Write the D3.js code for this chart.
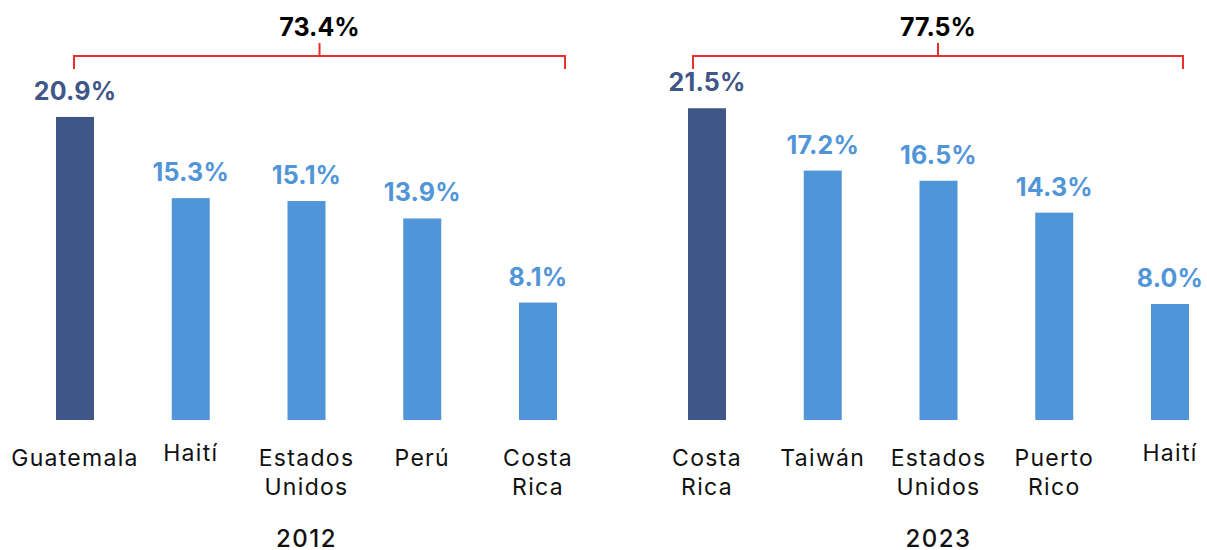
<!DOCTYPE html>
<html>
<head>
<meta charset="utf-8">
<script src="https://cdn.jsdelivr.net/npm/d3@7"></script>
<style>
    body { margin: 0; background: #fff; }
    text { font-family: Inter, "Open Sans", sans-serif; }
</style>
</head>
<body>
<div id="chart"></div>
<script>
// data
var years = ["2012", "2023"];
var countries2012 = ["Guatemala", "Haití", "Estados Unidos", "Perú", "Costa Rica"];
var values2012 = [20.9, 15.3, 15.1, 13.9, 8.1];
var countries2023 = ["Costa Rica", "Taiwán", "Estados Unidos", "Puerto Rico", "Haití"];
var values2023 = [21.5, 17.2, 16.5, 14.3, 8.0];
var totals = [73.4, 77.5];

Panel = function(_svg, _year, _countries, _values, _total, _range, _bracket){
    this.svg = _svg;
    this.year = _year;
    this.countries = _countries;
    this.values = _values;
    this.total = _total;
    this.range = _range;
    this.bracket = _bracket;
    this.initVis();
}

Panel.prototype.initVis = function() {
    var vis = this;

    vis.dark = "#3f5788";
    vis.light = "#5195d9";
    vis.red = "#e8312f";
    vis.barWidth = 38;
    vis.baseline = 420;

    vis.data = vis.countries.map(function(c, i){ return {country: c, value: vis.values[i]}; });

    vis.x = d3.scalePoint()
        .domain(vis.countries)
        .range(vis.range);

    vis.y = d3.scaleLinear()
        .domain([0, 22])
        .range([vis.baseline, vis.baseline - 319]);

    vis.fmt = function(v){ return d3.format(".1f")(v) + "%"; };

    vis.g = vis.svg.append("g");

    // bars
    vis.g.selectAll(".bar")
        .data(vis.data)
        .enter().append("rect")
        .attr("class", "bar")
        .attr("x", function(d){ return vis.x(d.country) - vis.barWidth / 2; })
        .attr("y", function(d){ return vis.y(d.value); })
        .attr("width", vis.barWidth)
        .attr("height", function(d){ return vis.y(0) - vis.y(d.value); })
        .style("fill", function(d, i){ return i == 0 ? vis.dark : vis.light; });

    // value labels
    vis.g.selectAll(".val")
        .data(vis.data)
        .enter().append("text")
        .attr("class", "val")
        .attr("x", function(d){ return vis.x(d.country); })
        .attr("y", function(d){ return vis.y(d.value) - 17; })
        .attr("text-anchor", "middle")
        .style("font-size", "25px")
        .style("font-weight", 700)
        .style("letter-spacing", "0.2px")
        .style("fill", function(d, i){ return i == 0 ? vis.dark : vis.light; })
        .text(function(d){ return vis.fmt(d.value); });

    // category labels, split on spaces
    vis.cat = vis.g.selectAll(".cat")
        .data(vis.data)
        .enter().append("text")
        .attr("class", "cat")
        .attr("text-anchor", "middle")
        .style("font-size", "23px")
        .style("letter-spacing", "1.3px")
        .style("fill", "#111")
        .attr("transform", function(d){
            // Haití sits a bit higher in the original
            var dy = d.country == "Haití" ? -5 : 0;
            return "translate(" + vis.x(d.country) + "," + (466 + dy) + ")";
        });

    vis.cat.selectAll("tspan")
        .data(function(d){ return d.country.split(" "); })
        .enter().append("tspan")
        .attr("x", 0)
        .attr("y", function(d, i){ return i * 29; })
        .text(function(d){ return d; });

    // year
    var first = vis.x(vis.countries[0]),
        last = vis.x(vis.countries[vis.countries.length - 1]);

    vis.g.append("text")
        .attr("x", (first + last) / 2)
        .attr("y", 547)
        .attr("text-anchor", "middle")
        .style("font-size", "24px")
        .style("font-weight", 500)
        .style("letter-spacing", "1.5px")
        .style("fill", "#111")
        .text(vis.year);

    // bracket with total
    var bx0 = vis.bracket[0],
        bx1 = vis.bracket[1],
        bmid = (bx0 + bx1) / 2;

    vis.g.append("path")
        .attr("d", "M" + bx0 + ",69V56H" + bx1 + "V69M" + bmid + ",56V43")
        .style("fill", "none")
        .style("stroke", vis.red)
        .style("stroke-width", 2);

    vis.g.append("text")
        .attr("x", bmid)
        .attr("y", 36)
        .attr("text-anchor", "middle")
        .style("font-size", "25px")
        .style("font-weight", 700)
        .style("fill", "#000")
        .text(vis.fmt(vis.total));
};

var svg = d3.select("#chart").append("svg")
    .attr("width", 1207)
    .attr("height", 550);

new Panel(svg, years[0], countries2012, values2012, totals[0], [75, 538], [74, 565]);
new Panel(svg, years[1], countries2023, values2023, totals[1], [707, 1170], [693, 1183]);
</script>
</body>
</html>
